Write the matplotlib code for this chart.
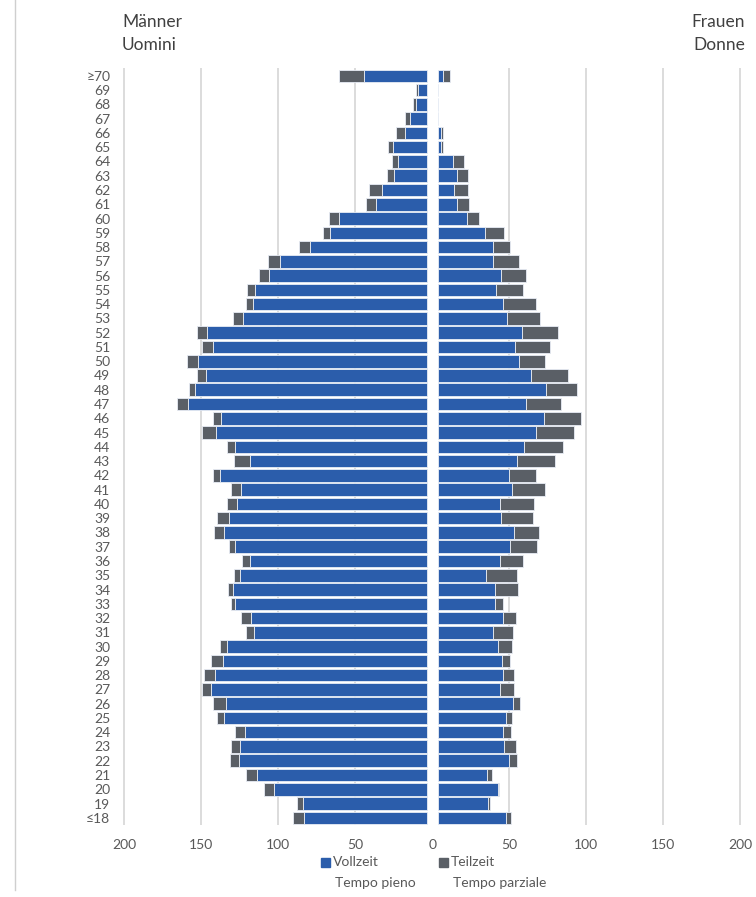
import matplotlib.pyplot as plt
from matplotlib.patches import Rectangle
from matplotlib.lines import Line2D
import numpy as np

plt.rcParams['font.family'] = ['Lato', 'DejaVu Sans']

ages = ['≤18'] + [str(a) for a in range(19, 70)] + ['≥70']

men_full = [79.7, 80.6, 99.3, 110.3, 122.0, 121.1, 118.1, 131.9, 130.6, 140.1,
            137.5, 132.3, 129.7, 112.0, 113.8, 124.5, 126.1, 121.5, 114.8, 124.5,
            131.9, 128.6, 123.5, 120.4, 134.0, 114.8, 124.5, 137.0, 133.6, 154.7,
            150.4, 143.1, 148.5, 139.0, 142.6, 119.6, 112.9, 111.2, 102.3, 95.5,
            76.1, 62.9, 56.7, 33.2, 29.3, 21.1, 18.7, 22.0, 14.0, 10.8,
            6.9, 5.6, 40.5]
men_part = [6.9, 3.4, 6.5, 7.3, 6.0, 6.2, 6.2, 4.5, 7.9, 6.0,
            7.1, 8.0, 4.5, 5.6, 6.6, 2.8, 3.2, 3.7, 5.2, 3.7,
            6.0, 7.8, 6.0, 6.5, 5.0, 10.4, 5.4, 9.1, 4.9, 7.3,
            3.9, 6.2, 6.9, 6.7, 6.5, 6.5, 4.7, 5.6, 6.5, 7.7,
            6.9, 4.3, 6.6, 6.4, 8.2, 4.8, 3.7, 3.4, 5.8, 3.2,
            2.1, 1.7, 16.6]
women_full = [44.0, 32.5, 38.8, 31.9, 46.1, 42.9, 42.0, 44.2, 48.9, 40.3,
              42.0, 41.4, 39.0, 35.6, 42.4, 36.8, 37.1, 31.2, 40.1, 46.5,
              49.3, 40.9, 40.5, 48.0, 46.1, 51.5, 55.8, 63.6, 68.7, 56.9,
              70.0, 60.5, 52.6, 50.0, 54.9, 44.8, 42.4, 37.7, 41.2, 36.0,
              35.6, 30.8, 18.7, 12.7, 10.6, 12.3, 10.1, 2.2, 2.2, 0,
              0, 0, 3.0]
women_part = [3.4, 1.5, 0.6, 3.0, 5.2, 7.5, 5.2, 3.6, 4.1, 8.8,
              7.6, 5.4, 9.3, 12.9, 8.2, 5.4, 15.0, 20.3, 15.1, 18.1,
              16.6, 20.7, 22.0, 21.4, 17.5, 24.3, 25.2, 24.7, 24.2, 23.3,
              20.5, 23.7, 16.6, 22.8, 23.1, 21.3, 21.2, 17.7, 16.1, 16.6,
              11.4, 11.9, 7.8, 7.8, 9.0, 7.5, 7.1, 1.2, 0.8, 0,
              0, 0, 4.8]

blue = '#2B5DAB'
grey = '#5A5F66'
txt = '#595959'
gap = 3.6  # white gap either side of the centre

y = np.arange(len(ages))
mf = np.array(men_full)
mp = np.array(men_part)
wf = np.array(women_full)
wp = np.array(women_part)

fig = plt.figure(figsize=(7.56, 8.97), dpi=100)
ax = fig.add_axes([0.1623, 0.0803, 0.8192, 0.8439])

for v in [-200, -150, -100, -50, 50, 100, 150, 200]:
    ax.axvline(v, color='#d9d9d9', lw=1.3, zorder=0)

kw = dict(height=0.88, edgecolor='#e8edf5', linewidth=0.6, zorder=2)
ax.barh(y, -mf, left=-gap, color=blue, **kw)
ax.barh(y, -mp, left=-gap - mf, color=grey, **kw)
ax.barh(y, wf, left=gap, color=blue, **kw)
ax.barh(y, wp, left=gap + wf, color=grey, **kw)

ax.set_xlim(-201, 201)
ax.set_ylim(-0.5, len(ages) - 0.45)
ax.set_yticks(y)
ax.set_yticklabels(ages)
ticks = [-200, -150, -100, -50, 0, 50, 100, 150, 200]
ax.set_xticks(ticks)
ax.set_xticklabels([str(abs(t)) for t in ticks])
ax.tick_params(axis='both', length=0, colors=txt, labelsize=10)
ax.tick_params(axis='x', pad=10)
ax.tick_params(axis='y', pad=9)
for s in ax.spines.values():
    s.set_visible(False)

# headers
hd = dict(fontsize=12.5, color='#404040', va='center')
fig.text(122 / 756, 1 - 22 / 897, 'Männer', ha='left', **hd)
fig.text(122 / 756, 1 - 45 / 897, 'Uomini', ha='left', **hd)
fig.text(745 / 756, 1 - 22 / 897, 'Frauen', ha='right', **hd)
fig.text(745 / 756, 1 - 45 / 897, 'Donne', ha='right', **hd)

# legend
for x0, col, l1, l2 in [(321, blue, 'Vollzeit', 'Tempo pieno'),
                        (439, grey, 'Teilzeit', 'Tempo parziale')]:
    fig.patches.append(Rectangle((x0 / 756, 1 - 867 / 897), 9 / 756, 9 / 897,
                                 transform=fig.transFigure, color=col))
    fig.text((x0 + 12) / 756, 1 - 862 / 897, l1, ha='left', va='center', fontsize=10, color=txt)
    fig.text((x0 + 14) / 756, 1 - 883 / 897, l2, ha='left', va='center', fontsize=10, color=txt)

fig.lines.append(Line2D([15 / 756, 15 / 756], [0.008, 1], transform=fig.transFigure,
                        color='#cfcfcf', lw=1))

fig.savefig('out.png', dpi=100)
